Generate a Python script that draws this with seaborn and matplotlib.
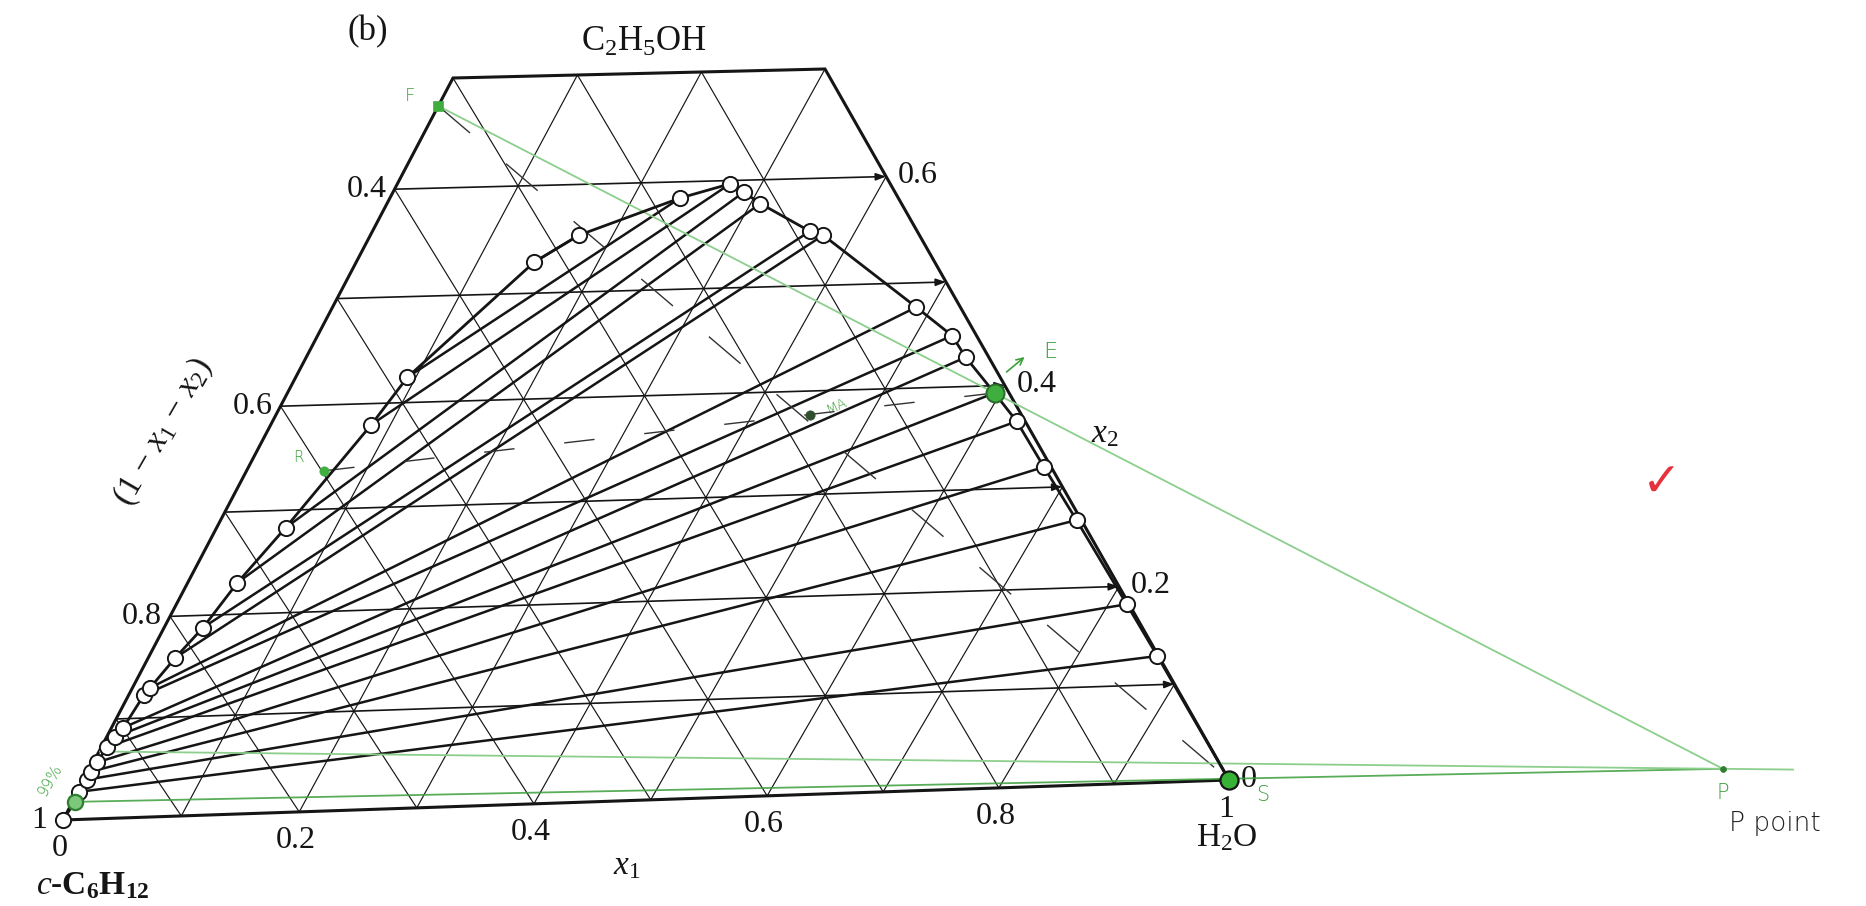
import numpy as np
import pandas as pd
import matplotlib
matplotlib.use("Agg")
import matplotlib.pyplot as plt
import seaborn as sns

# ---------------- data (mole fractions: x1 = water, x2 = ethanol) ----------------
# cyclohexane-rich phase ends of the tie lines
raff_x1 = [0.001, 0.002, 0.002, 0.003, 0.005, 0.007, 0.010, 0.013,
           0.015, 0.023, 0.033, 0.042, 0.058, 0.084, 0.093, 0.147]
raff_x2 = [0.028, 0.040, 0.048, 0.057, 0.072, 0.082, 0.091, 0.123,
           0.130, 0.159, 0.188, 0.231, 0.283, 0.380, 0.424, 0.529]
# water-rich phase ends of the same tie lines
ext_x1 = [0.870, 0.816, 0.729, 0.674, 0.628, 0.595, 0.553, 0.531,
          0.487, 0.375, 0.362, 0.308, 0.289, 0.274, 0.239, 0.172]
ext_x2 = [0.129, 0.182, 0.267, 0.320, 0.365, 0.393, 0.428, 0.449,
          0.477, 0.547, 0.551, 0.578, 0.589, 0.597, 0.585, 0.553]

# extraction construction points
feed_F = (0.000, 0.675)
raff_R = (0.065, 0.337)
raff_final = (0.002, 0.018)      # 99 % cyclohexane raffinate
raff_prev = (0.000, 0.068)
mix_M = (0.449, 0.377)
solvent_S = (1.000, 0.000)
extract_E = (ext_x1[5], ext_x2[5])
delta_P = (1.437, -0.006)

left_ticks = ["1", "0.8", "0.6", "0.4"]          # (1 - x1 - x2) on the left edge
left_tick_x2 = [0.0, 0.2, 0.4, 0.6]
bottom_ticks = ["0", "0.2", "0.4", "0.6", "0.8", "1"]
bottom_tick_x1 = [0.0, 0.2, 0.4, 0.6, 0.8, 1.0]
right_ticks = ["0", "0.2", "0.4", "0.6"]
right_tick_x2 = [0.0, 0.2, 0.4, 0.6]

TOP_X2 = 0.7   # the diagram is cut off at this ethanol fraction

# ---------------- canvas placement of the truncated triangle ----------------
W, Hpx = 1866, 906
SQ3 = np.sqrt(3) / 2
corner_tern = [(0, 0), (1, 0), (0, TOP_X2), (1 - TOP_X2, TOP_X2)]
corner_canvas = [(63, 820), (1229, 780), (453, 78), (825, 69)]


def cart(x1, x2):
    x1 = np.asarray(x1, float)
    x2 = np.asarray(x2, float)
    return x1 + 0.5 * x2, SQ3 * x2


def homography(src, dst):
    rows, rhs = [], []
    for (X, Y), (u, v) in zip(src, dst):
        rows.append([X, Y, 1, 0, 0, 0, -u * X, -u * Y]); rhs.append(u)
        rows.append([0, 0, 0, X, Y, 1, -v * X, -v * Y]); rhs.append(v)
    h = np.linalg.solve(np.array(rows, float), np.array(rhs, float))
    return np.append(h, 1.0).reshape(3, 3)


HM = homography([cart(a, b) for a, b in corner_tern], corner_canvas)


def proj(x1, x2):
    X, Y = cart(x1, x2)
    w = HM[2, 0] * X + HM[2, 1] * Y + HM[2, 2]
    return ((HM[0, 0] * X + HM[0, 1] * Y + HM[0, 2]) / w,
            (HM[1, 0] * X + HM[1, 1] * Y + HM[1, 2]) / w)


# ---------------- style ----------------
sns.set_theme(style="white")
plt.rcParams["font.family"] = ["Liberation Serif", "DejaVu Sans"]
plt.rcParams["mathtext.fontset"] = "custom"
plt.rcParams["mathtext.rm"] = "Liberation Serif"
plt.rcParams["mathtext.it"] = "Liberation Serif:italic"
plt.rcParams["mathtext.default"] = "regular"

INK = "#151515"
GREEN = "#3c9f3c"
LIGHT_GREEN = "#8ccf8c"

fig = plt.figure(figsize=(W / 100, Hpx / 100), dpi=100)
fig.patch.set_facecolor("white")
ax = fig.add_axes([0, 0, 1, 1])
ax.set_xlim(0, W)
ax.set_ylim(Hpx, 0)
ax.axis("off")


def seg(p, q, **kw):
    x = [proj(*p)[0], proj(*q)[0]]
    y = [proj(*p)[1], proj(*q)[1]]
    ax.plot(x, y, solid_capstyle="butt", **kw)


# ---------------- grid ----------------
steps = np.round(np.arange(0.1, 1.0, 0.1), 1)
for k in steps:
    # constant water fraction
    seg((k, 0), (k, min(1 - k, TOP_X2)), color=INK, lw=0.85, zorder=1)
    # constant cyclohexane fraction
    top = min(1 - k, TOP_X2)
    seg((1 - k, 0), (1 - k - top, top), color=INK, lw=0.85, zorder=1)
for k in steps[steps < TOP_X2 - 0.05]:
    a = proj(0, k)
    b = proj(1 - k, k)
    ax.annotate("", xy=b, xytext=a,
                arrowprops=dict(arrowstyle="-|>,head_length=0.5,head_width=0.18",
                                color=INK, lw=1.2, shrinkA=0, shrinkB=0),
                zorder=1)

# frame of the truncated triangle
fx, fy = proj([0, 1, 1 - TOP_X2, 0, 0], [0, 0, TOP_X2, TOP_X2, 0])
ax.plot(fx, fy, color=INK, lw=2.2, solid_joinstyle="miter", zorder=3)

# ---------------- tie lines ----------------
for a1, a2, b1, b2 in zip(raff_x1, raff_x2, ext_x1, ext_x2):
    seg((a1, a2), (b1, b2), color=INK, lw=1.8, zorder=4)

# dashed construction lines F-S and R-E
seg(feed_F, solvent_S, color="#333333", lw=1.0, linestyle=(0, (30, 34)), zorder=4)
seg(raff_R, extract_E, color="#333333", lw=1.0, linestyle=(0, (22, 36)), zorder=4)

# green construction lines meeting at the difference point P
seg(feed_F, delta_P, color=LIGHT_GREEN, lw=1.3, zorder=5)
seg(raff_final, delta_P, color=GREEN, lw=1.3, alpha=0.85, zorder=5)
p_end = (raff_prev[0] + 1.045 * (delta_P[0] - raff_prev[0]),
         raff_prev[1] + 1.045 * (delta_P[1] - raff_prev[1]))
seg(raff_prev, p_end, color=LIGHT_GREEN, lw=1.3, zorder=5)

# ---------------- binodal curve ----------------
curve_x1 = [0.0, raff_final[0]] + raff_x1 + ext_x1[::-1] + [1.0]
curve_x2 = [0.0, raff_final[1]] + raff_x2 + ext_x2[::-1] + [0.0]
cx, cy = proj(curve_x1, curve_x2)
curve = pd.DataFrame({"x": cx, "y": cy})
sns.lineplot(data=curve, x="x", y="y", sort=False, estimator=None,
             color=INK, lw=2.0, ax=ax, zorder=6)

pts_x1 = [0.0] + raff_x1 + ext_x1
pts_x2 = [0.0] + raff_x2 + ext_x2
px_, py_ = proj(pts_x1, pts_x2)
pts = pd.DataFrame({"x": px_, "y": py_})
sns.scatterplot(data=pts, x="x", y="y", s=120, facecolor="white",
                edgecolor=INK, linewidth=1.4, ax=ax, zorder=7)
ax.set_xlabel("")
ax.set_ylabel("")
ax.set_xlim(0, W)
ax.set_ylim(Hpx, 0)

# ---------------- marked points ----------------
def mark(p, size, face, edge, lw=1.2, marker="o"):
    x, y = proj(*p)
    ax.scatter([x], [y], s=size, facecolor=face, edgecolor=edge,
               linewidth=lw, marker=marker, zorder=8)

mark(raff_final, 120, "#7cc77c", "#2f7f2f", 1.6)
mark(extract_E, 170, "#3fae3f", "#2a6a2a", 1.4)
mark(solvent_S, 170, "#36b336", INK, 1.6)
mark(feed_F, 60, "#3fae3f", "#3fae3f", 0.5, marker="s")
mark(raff_R, 45, "#3fae3f", "#3fae3f", 0.5)
mark(mix_M, 45, "#2f4f2f", "#2f4f2f", 0.5)
mark(delta_P, 18, "#2f7f2f", "#2f7f2f", 0.5)

# ---------------- text ----------------
serif = dict(color=INK, fontsize=23)
for lab, v in zip(left_ticks, left_tick_x2):
    x, y = proj(0, v)
    ax.text(x - (16 if v == 0 else 8), y, lab, ha="right", va="center", **serif)
for lab, v in zip(bottom_ticks, bottom_tick_x1):
    x, y = proj(v, 0)
    ax.text(x - 3, y + 29, lab, ha="center", va="center", **serif)
for lab, v in zip(right_ticks, right_tick_x2):
    x, y = proj(1 - v, v)
    ax.text(x + 12, y - 1, lab, ha="left", va="center", **serif)

ax.text(368, 32, "(b)", ha="center", va="center", color=INK, fontsize=25)
ax.text(644, 42, r"C$_2$H$_5$OH", ha="center", va="center", color=INK, fontsize=25)
ax.text(1227, 838, r"H$_2$O", ha="center", va="center", color=INK, fontsize=24)
ax.text(93, 886, r"$\mathit{c}$-C$_6$H$_{12}$", ha="center", va="center",
        color=INK, fontsize=24, fontweight="bold")
ax.text(627, 866, r"$\mathit{x}_1$", ha="center", va="center", color=INK, fontsize=24)
ax.text(1105, 434, r"$\mathit{x}_2$", ha="center", va="center", color=INK, fontsize=24)
ax.text(163, 432, r"(1 $-$ $\mathit{x}_1$ $-$ $\mathit{x}_2$)", ha="center", va="center",
        rotation=60, color=INK, fontsize=24)

hand = dict(family="DejaVu Sans", color=GREEN, fontweight="light")
fx_, fy_ = proj(*feed_F)
ax.text(fx_ - 28, fy_ - 10, "F", ha="center", va="center", fontsize=13, **hand)
rx_, ry_ = proj(*raff_R)
ax.text(rx_ - 26, ry_ - 13, "R", ha="center", va="center", fontsize=11, **hand)
ex_, ey_ = proj(*extract_E)
ax.annotate("", xy=(ex_ + 30, ey_ - 36), xytext=(ex_ + 12, ey_ - 21),
            arrowprops=dict(arrowstyle="->", color=GREEN, lw=1.2, shrinkA=0, shrinkB=0))
ax.text(ex_ + 56, ey_ - 41, "E", ha="center", va="center", fontsize=16, **hand)
sx_, sy_ = proj(*solvent_S)
ax.text(sx_ + 34, sy_ + 15, "S", ha="center", va="center", fontsize=15, **hand)
qx_, qy_ = proj(*delta_P)
ax.text(qx_, qy_ + 24, "P", ha="center", va="center", fontsize=15, **hand)
ax.text(qx_ + 52, qy_ + 55, "P point", ha="center", va="center", fontsize=19,
        family="DejaVu Sans", fontweight="light", color="#222222")
nx_, ny_ = proj(*raff_final)
ax.text(nx_ - 25, ny_ - 22, "99%", ha="center", va="center", rotation=60,
        fontsize=11, **hand)
mx_, my_ = proj(*mix_M)
ax.text(mx_ + 27, my_ - 9, "MA", ha="center", va="center", rotation=25,
        fontsize=10, **hand)

ax.text(1662, 484, "\u2713", ha="center", va="center", fontsize=34,
        family="DejaVu Sans", color="#e5323c")

fig.savefig("out.png", dpi=100, facecolor="white")
